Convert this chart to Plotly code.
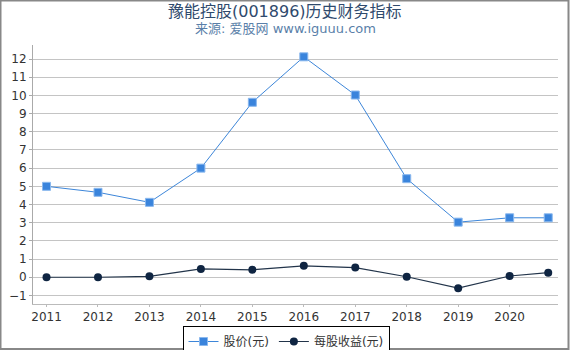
import plotly.graph_objects as go

years = [2011, 2012, 2013, 2014, 2015, 2016, 2017, 2018, 2019, 2020, 2020.75]
price = [5.0, 4.67, 4.12, 6.0, 9.62, 12.12, 10.02, 5.42, 3.03, 3.27, 3.27]
eps = [0.0, 0.0, 0.05, 0.46, 0.41, 0.63, 0.53, 0.03, -0.6, 0.07, 0.25]
tick_years = [2011, 2012, 2013, 2014, 2015, 2016, 2017, 2018, 2019, 2020]
tick_labels = [str(y) for y in tick_years]

title_text = "豫能控股(001896)历史财务指标"
subtitle_text = "来源: 爱股网 www.iguuu.com"
name_price = "股价(元)"
name_eps = "每股收益(元)"

FONT = "DejaVu Sans, Noto Sans CJK SC, sans-serif"
W, H = 570, 350
L, R, T, B = 33, 12, 45, 46
pw, ph = W - L - R, H - T - B

def px_x(p):
    return (p - L) / pw

def px_y(p):
    return (H - B - p) / ph

fig = go.Figure()
fig.add_trace(go.Scatter(
    x=years, y=price, name=name_price, mode="lines+markers",
    line=dict(color="#3d86d9", width=1),
    marker=dict(symbol="square", size=8, color="#3a84dc",
                line=dict(color="#8ab8ee", width=1)),
))
fig.add_trace(go.Scatter(
    x=years, y=eps, name=name_eps, mode="lines+markers",
    line=dict(color="#22344a", width=1.2),
    marker=dict(symbol="circle", size=8, color="#0f2542"),
))

fig.update_layout(
    width=W, height=H,
    margin=dict(l=L, r=R, t=T, b=B, autoexpand=False),
    paper_bgcolor="white", plot_bgcolor="white",
    font=dict(family=FONT, size=12, color="#333333"),
    showlegend=True,
    legend=dict(
        orientation="h", xref="container", yref="container",
        x=286 / W, xanchor="center",
        y=1 - 326 / H, yanchor="top",
        bordercolor="#000000", borderwidth=1,
        font=dict(size=12, color="#333333"),
        itemwidth=30, tracegroupgap=0,
    ),
    xaxis=dict(
        range=[2010.737, 2020.94], tickmode="array",
        tickvals=tick_years, ticktext=tick_labels,
        showgrid=False, zeroline=False,
        showline=True, linecolor="#bbbbbb", linewidth=1,
        ticks="outside", ticklen=2, tickcolor="#bbbbbb",
        tickfont=dict(size=12, color="#333333"),
    ),
    yaxis=dict(
        range=[-1.47, 12.77], dtick=1, tick0=0,
        showgrid=True, gridcolor="#c4c4c4", gridwidth=1,
        zeroline=False,
        showline=True, linecolor="#aaaaaa", linewidth=1,
        ticks="outside", ticklen=3, tickcolor="#aaaaaa",
        tickfont=dict(size=12, color="#333333"),
    ),
    annotations=[
        dict(text=title_text, xref="paper", yref="paper",
             x=px_x(285), y=px_y(11), xanchor="center", yanchor="middle",
             showarrow=False, font=dict(size=16, color="#2f4a6d", family=FONT)),
        dict(text=subtitle_text, xref="paper", yref="paper",
             x=px_x(285), y=px_y(29), xanchor="center", yanchor="middle",
             showarrow=False, font=dict(size=13, color="#5a7fa9", family=FONT)),
    ],
    shapes=[
        dict(type="rect", xref="paper", yref="paper",
             x0=px_x(0.5), x1=px_x(568.5), y0=px_y(0.5), y1=px_y(349),
             line=dict(color="#888888", width=2), fillcolor="rgba(0,0,0,0)",
             layer="above"),
    ],
)

fig.write_html("out.html")
